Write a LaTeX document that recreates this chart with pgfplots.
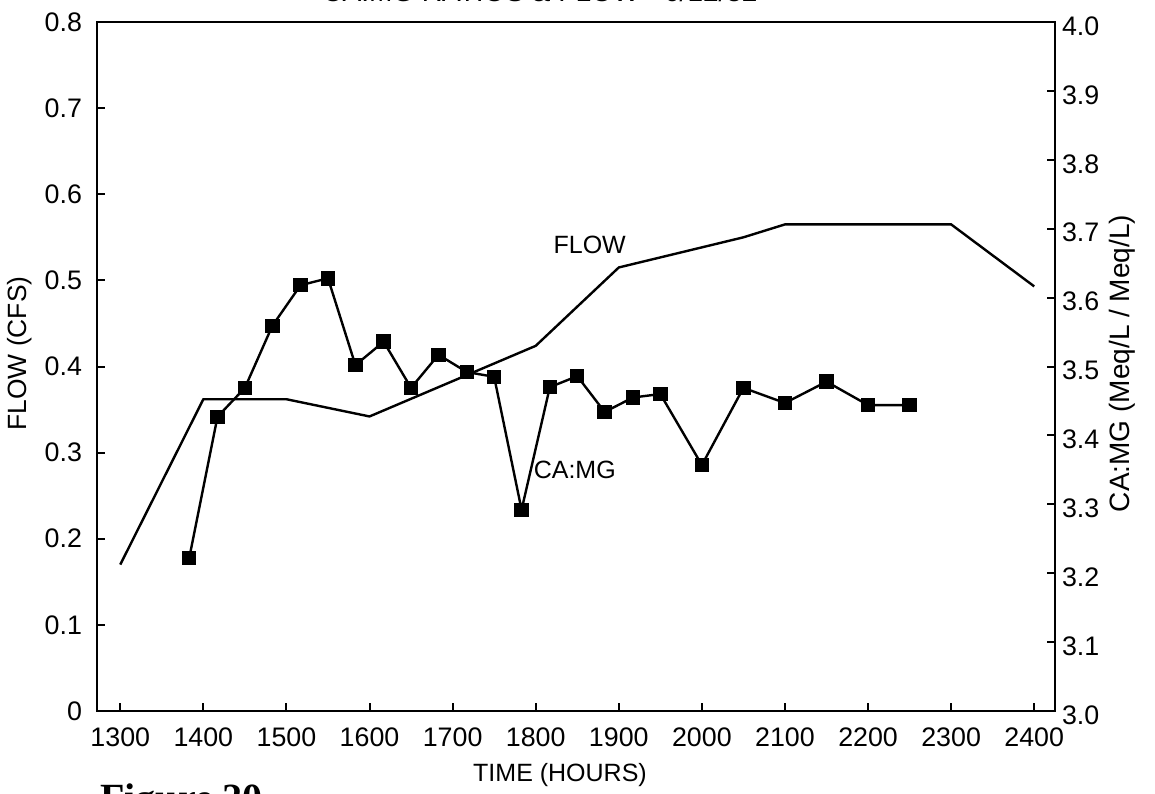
\documentclass[border=0pt]{standalone}
\usepackage{pgfplots}
\pgfplotsset{compat=1.18}
\usepackage{fontspec}
\setmainfont{Liberation Sans}
\newfontfamily\figfont{Liberation Serif}

\pgfplotstableread{
t ratio
1383 3.222
1417 3.427
1450 3.469
1483 3.559
1517 3.618
1550 3.628
1583 3.502
1617 3.536
1650 3.469
1683 3.517
1717 3.492
1750 3.485
1783 3.292
1817 3.470
1850 3.486
1883 3.434
1917 3.455
1950 3.460
2000 3.357
2050 3.469
2100 3.447
2150 3.478
2200 3.444
2250 3.444
}\camg

\pgfplotstableread{
t flow
1300 0.170
1400 0.362
1500 0.362
1600 0.342
1800 0.424
1900 0.515
2050 0.550
2100 0.565
2300 0.565
2400 0.493
}\flowdata

\newcommand{\tickfont}{\fontsize{13.4}{16}\selectfont}
\newcommand{\labfont}{\fontsize{12.5}{15}\selectfont}

\begin{document}
\begin{tikzpicture}
\pgfplotsset{
  common/.style={
    scale only axis, width=479pt, height=344.5pt,
    xmin=1272, xmax=2425,
    axis line style={line width=1.1pt},
    major tick style={line width=1.0pt, black},
    major tick length=4pt,
    tick label style={font=\tickfont},
    /pgf/number format/assume math mode=true,
  }
}
\begin{axis}[common, name=ax,
  ymin=0, ymax=0.8,
  xtick={1300,1400,1500,1600,1700,1800,1900,2000,2100,2200,2300,2400},
  xticklabels={1300,1400,1500,1600,1700,1800,1900,2000,2100,2200,2300,2400},
  ytick={0,0.1,0.2,0.3,0.4,0.5,0.6,0.7,0.8},
  yticklabels={0,0.1,0.2,0.3,0.4,0.5,0.6,0.7,0.8},
  xtick pos=left, ytick pos=left,
  yticklabel style={xshift=-4pt},
  xticklabel style={yshift=-5pt},
]
\addplot[black, line width=1.2pt, mark=none] table[x=t, y=flow] {\flowdata};
\node[font=\labfont] at (axis cs:1865,0.541) {FLOW};
\node[font=\labfont] at (axis cs:1847,0.280) {CA:MG};
\end{axis}
\begin{axis}[common,
  ymin=3, ymax=4,
  axis y line*=right, axis x line=none,
  ytick={3.0,3.1,3.2,3.3,3.4,3.5,3.6,3.7,3.8,3.9,4.0},
  yticklabels={3.0,3.1,3.2,3.3,3.4,3.5,3.6,3.7,3.8,3.9,4.0},
  yticklabel style={yshift=-2pt},
]
\addplot[black, line width=1.2pt, mark=square*, mark size=3pt, mark options={solid, fill=black}] table[x=t, y=ratio] {\camg};
\end{axis}
\node[rotate=90, font=\fontsize{13.2}{15}\selectfont] at ([xshift=-38.5pt, yshift=6.5pt]ax.west) {FLOW (CFS)};
\node[rotate=90, font=\fontsize{14}{16}\selectfont] at ([xshift=33.5pt, yshift=1.5pt]ax.east) {CA:MG (Meq/L / Meq/L)};
\node[font=\labfont] at ([xshift=-8pt, yshift=-32pt]ax.south) {TIME (HOURS)};
\node[font=\fontsize{14}{16}\selectfont, anchor=base] at ([xshift=-18pt, yshift=10.5pt]ax.north) {CA:MG RATIOS \& FLOW - 6/12/82};
\node[font=\figfont\bfseries\fontsize{20}{24}\selectfont, anchor=north west, inner sep=0pt] at ([xshift=1.5pt, yshift=-36pt]ax.south west) {Figure 20};
\pgfresetboundingbox
\path[use as bounding box] ([shift={(-48.5pt,-41pt)}]ax.south west) rectangle ([shift={(529pt,355.5pt)}]ax.south west);
\end{tikzpicture}
\end{document}
